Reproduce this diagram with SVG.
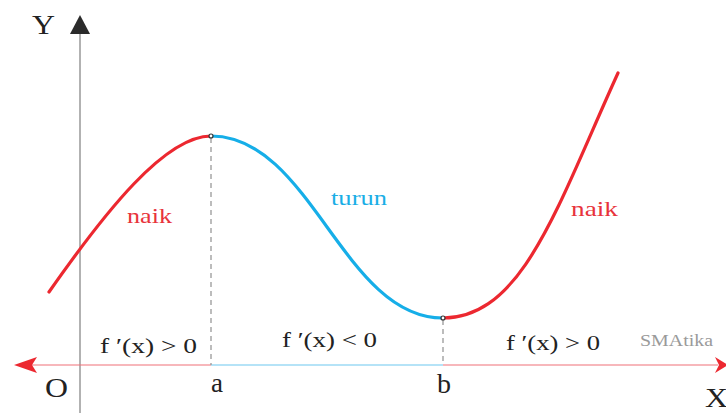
<svg xmlns="http://www.w3.org/2000/svg" width="726" height="413" viewBox="0 0 726 413">
<style>
.t{font-family:"Liberation Serif","Times New Roman",serif;}
.ax{font-size:27px;fill:#222;}
.fx{font-size:22px;fill:#222;}
.lbl{font-size:22px;}
.red{stroke:#ec2830;fill:none;stroke-width:3.2;stroke-linecap:round;}
.blue{stroke:#16aee8;fill:none;stroke-width:3.2;stroke-linecap:round;}
.dash{stroke:#999;stroke-width:1.3;stroke-dasharray:5 4;fill:none;}
.pt{fill:#fff;stroke:#333;stroke-width:1.2;}
</style>
<rect width="726" height="413" fill="#fff"/>
<g id="axes">
  <line x1="80" y1="30" x2="80" y2="413" stroke="#999" stroke-width="1.5"/>
  <polygon points="80,15 70,34 90,34" fill="#2b2b2b"/>
  <line x1="32" y1="365" x2="211" y2="365" stroke="#f07078" stroke-width="1.2"/>
  <line x1="211" y1="365" x2="443" y2="365" stroke="#6cc8f0" stroke-width="1.2"/>
  <line x1="443" y1="365" x2="718" y2="365" stroke="#f07078" stroke-width="1.2"/>
  <polygon points="14,365 37,357 32,365 37,373" fill="#ec2830"/>
  <polygon points="728,365 715,357 719,365 715,373" fill="#ec2830"/>
</g>
<g id="connectors">
  <line class="dash" x1="211" y1="138" x2="211" y2="365"/>
  <line class="dash" x1="443" y1="320" x2="443" y2="365"/>
  <path class="red" d="M49,292 C105,212 165,136 211,136"/>
  <path class="blue" d="M211,136 C311,136 343,318 443,318"/>
  <path class="red" d="M443,318 C523,318 558,204.4 618,73"/>
</g>
<g id="point-a"><circle class="pt" cx="211" cy="136" r="2"/></g>
<g id="point-b"><circle class="pt" cx="443" cy="318" r="2"/></g>
<g id="labels">
  <text class="t ax" x="32" y="34" textLength="23" lengthAdjust="spacingAndGlyphs">Y</text>
  <text class="t ax" x="45" y="397" textLength="23" lengthAdjust="spacingAndGlyphs">O</text>
  <text class="t ax" x="211" y="392" textLength="12" lengthAdjust="spacingAndGlyphs">a</text>
  <text class="t ax" x="437" y="393" textLength="14" lengthAdjust="spacingAndGlyphs">b</text>
  <text class="t ax" x="705" y="407" textLength="23" lengthAdjust="spacingAndGlyphs">X</text>
  <text class="t fx" x="100" y="353" textLength="97" lengthAdjust="spacingAndGlyphs">f ′(x) &gt; 0</text>
  <text class="t fx" x="282" y="347" textLength="95" lengthAdjust="spacingAndGlyphs">f ′(x) &lt; 0</text>
  <text class="t fx" x="506" y="350" textLength="94" lengthAdjust="spacingAndGlyphs">f ′(x) &gt; 0</text>
  <text class="t lbl" x="127" y="223" fill="#e8333b" textLength="45" lengthAdjust="spacingAndGlyphs">naik</text>
  <text class="t lbl" x="331" y="205" fill="#1aaee6" textLength="56" lengthAdjust="spacingAndGlyphs">turun</text>
  <text class="t lbl" x="571" y="216" fill="#e8333b" textLength="47" lengthAdjust="spacingAndGlyphs">naik</text>
  <text class="t" x="640" y="346" font-size="16" fill="#9a9a9a" textLength="73" lengthAdjust="spacingAndGlyphs">SMAtika</text>
</g>
</svg>
